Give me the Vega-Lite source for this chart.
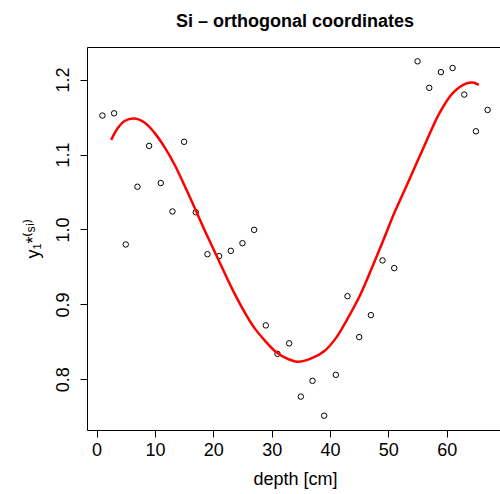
{
  "$schema": "https://vega.github.io/schema/vega-lite/v6.json",
  "autosize": {"type": "none"},
  "padding": {"left": 87, "top": 47, "right": 0, "bottom": 63},
  "width": 416,
  "height": 383,
  "background": "white",
  "config": {
    "font": "Liberation Sans",
    "view": {"stroke": "black", "strokeWidth": 1},
    "axis": {
      "domain": false,
      "grid": false,
      "tickColor": "black",
      "tickSize": 7,
      "labelColor": "black",
      "titleColor": "black",
      "labelFontSize": 18,
      "titleFontSize": 18,
      "titleFontWeight": "normal",
      "labelFont": "Liberation Sans",
      "titleFont": "Liberation Sans"
    }
  },
  "title": {
    "text": "Si – orthogonal coordinates",
    "font": "Liberation Sans",
    "fontSize": 18,
    "fontWeight": "bold",
    "color": "black",
    "anchor": "middle",
    "baseline": "alphabetic",
    "offset": 2
  },
  "datasets": {
    "obs": [
      {"depth": 1, "y": 1.152}, {"depth": 3, "y": 1.155}, {"depth": 5, "y": 0.980},
      {"depth": 7, "y": 1.057}, {"depth": 9, "y": 1.1115}, {"depth": 11, "y": 1.062},
      {"depth": 13, "y": 1.024}, {"depth": 15, "y": 1.117}, {"depth": 17, "y": 1.023},
      {"depth": 19, "y": 0.967}, {"depth": 21, "y": 0.9644}, {"depth": 23, "y": 0.9715},
      {"depth": 25, "y": 0.9817}, {"depth": 27, "y": 0.9995}, {"depth": 29, "y": 0.872},
      {"depth": 31, "y": 0.834}, {"depth": 33, "y": 0.848}, {"depth": 35, "y": 0.777},
      {"depth": 37, "y": 0.798}, {"depth": 39, "y": 0.7515}, {"depth": 41, "y": 0.806},
      {"depth": 43, "y": 0.911}, {"depth": 45, "y": 0.8564}, {"depth": 47, "y": 0.8857},
      {"depth": 49, "y": 0.9587}, {"depth": 51, "y": 0.9484}, {"depth": 55, "y": 1.2244},
      {"depth": 57, "y": 1.189}, {"depth": 59, "y": 1.210}, {"depth": 61, "y": 1.2155},
      {"depth": 63, "y": 1.180}, {"depth": 65, "y": 1.131}, {"depth": 67, "y": 1.1595}
    ],
    "fit": [
      {"depth": 2.5, "y": 1.1195}, {"depth": 3.7, "y": 1.136}, {"depth": 4.8, "y": 1.1448},
      {"depth": 6.5, "y": 1.148}, {"depth": 8.2, "y": 1.1427}, {"depth": 9.9, "y": 1.1293},
      {"depth": 11.7, "y": 1.1093}, {"depth": 13.4, "y": 1.086}, {"depth": 15.1, "y": 1.058},
      {"depth": 16.8, "y": 1.029}, {"depth": 18.4, "y": 1.001}, {"depth": 20.5, "y": 0.966},
      {"depth": 23.4, "y": 0.918}, {"depth": 25.7, "y": 0.885}, {"depth": 27.1, "y": 0.868},
      {"depth": 28.8, "y": 0.852}, {"depth": 30.5, "y": 0.8382}, {"depth": 32.2, "y": 0.8293},
      {"depth": 34.5, "y": 0.8235}, {"depth": 36.8, "y": 0.828}, {"depth": 39.1, "y": 0.8382},
      {"depth": 41.1, "y": 0.856}, {"depth": 42.8, "y": 0.878}, {"depth": 45.1, "y": 0.9115},
      {"depth": 47.4, "y": 0.953}, {"depth": 49.1, "y": 0.985}, {"depth": 50.8, "y": 1.018},
      {"depth": 53.1, "y": 1.058}, {"depth": 55.9, "y": 1.107}, {"depth": 58.8, "y": 1.156},
      {"depth": 61.1, "y": 1.1827}, {"depth": 63.4, "y": 1.195}, {"depth": 64.5, "y": 1.196},
      {"depth": 65.5, "y": 1.193}
    ]
  },
  "encoding": {
    "x": {
      "field": "depth",
      "type": "quantitative",
      "scale": {"domain": [-1.64, 69.64], "nice": false, "zero": false},
      "axis": {"values": [0, 10, 20, 30, 40, 50, 60], "title": "depth [cm]", "labelPadding": 4, "titlePadding": 11}
    },
    "y": {
      "field": "y",
      "type": "quantitative",
      "scale": {"domain": [0.7324, 1.2435], "nice": false, "zero": false},
      "axis": {
        "values": [0.8, 0.9, 1.0, 1.1, 1.2],
        "format": ".1f",
        "labelAngle": -90,
        "labelAlign": "center",
        "labelBaseline": "bottom",
        "labelPadding": 8,
        "title": "y₁*⁽ˢⁱ⁾",
        "titlePadding": 12
      }
    }
  },
  "layer": [
    {
      "data": {"name": "obs"},
      "mark": {"type": "point", "shape": "circle", "filled": false, "stroke": "black", "strokeWidth": 1, "size": 30, "opacity": 1}
    },
    {
      "data": {"name": "fit"},
      "mark": {"type": "line", "color": "#ff0000", "strokeWidth": 2.5, "interpolate": "catmull-rom"}
    }
  ]
}
